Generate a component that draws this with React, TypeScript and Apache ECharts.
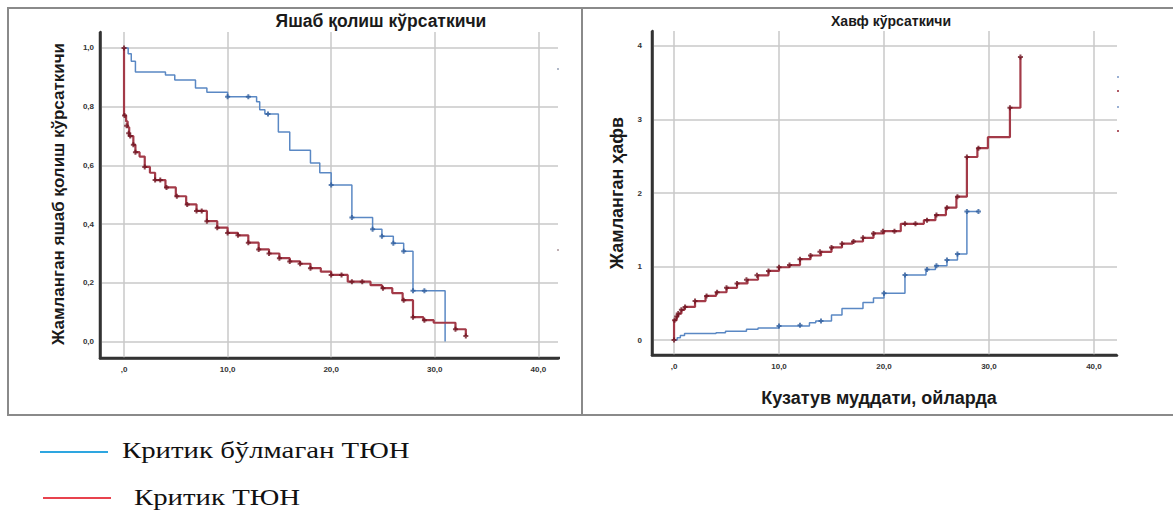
import React, { useEffect, useRef } from "react";
import * as echarts from "echarts";

// ---- data ----
const xTicks = [0, 10, 20, 30, 40];
const survYTicks = [0, 0.2, 0.4, 0.6, 0.8, 1.0];
const hazYTicks = [0, 1, 2, 3, 4];

const titleSurv = "Яшаб қолиш кўрсаткичи";
const titleHaz = "Хавф кўрсаткичи";
const ySurvName = "Жамланган яшаб қолиш кўрсаткичи";
const yHazName = "Жамланган ҳафв";
const xHazName = "Кузатув муддати, ойларда";
const legendBlue = "Критик бўлмаган ТЮН";
const legendRed = "Критик ТЮН";

const survBlue: number[][] = [
  [0, 1.0], [0.4, 0.98], [0.7, 0.955], [1.1, 0.918], [4.0, 0.908], [4.9, 0.891],
  [6.9, 0.864], [8.0, 0.849], [10.0, 0.834], [12.8, 0.817], [13.1, 0.79], [13.6, 0.775],
  [14.9, 0.714], [16.0, 0.652], [18.0, 0.608], [18.9, 0.575], [20.0, 0.533], [22.0, 0.423],
  [24.0, 0.383], [24.9, 0.359], [26.0, 0.335], [27.0, 0.308], [27.9, 0.173], [31.0, 0.0],
];
const survRed: number[][] = [
  [0, 1.0], [0, 0.77], [0.2, 0.75], [0.35, 0.73], [0.5, 0.7], [0.9, 0.67], [1.1, 0.645],
  [1.5, 0.63], [2.0, 0.595], [2.5, 0.575], [3.0, 0.55], [4.0, 0.525], [5.0, 0.495],
  [6.0, 0.467], [7.0, 0.445], [8.0, 0.41], [9.0, 0.388], [10.0, 0.37], [11.0, 0.362],
  [12.0, 0.337], [13.0, 0.314], [14.0, 0.3], [15.0, 0.284], [16.0, 0.273], [17.0, 0.265],
  [18.0, 0.25], [19.0, 0.238], [20.0, 0.227], [21.6, 0.204], [23.8, 0.192], [24.9, 0.182],
  [25.9, 0.165], [26.9, 0.141], [27.9, 0.083], [28.9, 0.073], [29.9, 0.064], [32.0, 0.042],
  [33.0, 0.019],
];
const survBlueCens: number[][] = [
  [10.0, 0.834], [12.0, 0.834], [13.9, 0.775], [20.0, 0.533], [22.0, 0.423], [24.0, 0.383],
  [24.9, 0.359], [26.0, 0.335], [27.0, 0.308], [27.9, 0.173], [29.0, 0.173],
];
const survRedCens: number[][] = [
  [0, 1.0], [0.05, 0.77], [0.25, 0.735], [0.45, 0.71], [0.6, 0.7], [0.9, 0.67], [1.1, 0.645],
  [2.0, 0.595], [3.0, 0.55], [3.5, 0.55], [4.1, 0.525], [5.1, 0.495], [6.1, 0.467],
  [7.0, 0.445], [7.5, 0.445], [8.0, 0.41], [9.0, 0.388], [10.0, 0.37], [11.0, 0.362],
  [12.0, 0.337], [13.0, 0.314], [14.0, 0.3], [15.0, 0.284], [16.0, 0.273], [17.0, 0.265],
  [18.0, 0.25], [20.0, 0.227], [21.0, 0.227], [22.0, 0.204], [23.0, 0.204], [25.0, 0.182],
  [27.0, 0.141], [27.9, 0.083], [29.0, 0.073], [32.0, 0.042], [33.0, 0.019],
];

const hazBlue: number[][] = [
  [0, 0], [0.3, 0.03], [0.6, 0.06], [1.0, 0.09], [4.0, 0.1], [4.9, 0.12], [6.9, 0.145],
  [8.0, 0.165], [10.0, 0.19], [12.9, 0.235], [13.5, 0.26], [15.0, 0.34], [16.0, 0.43],
  [18.0, 0.51], [19.0, 0.57], [20.0, 0.635], [22.0, 0.885], [24.0, 0.96], [24.9, 1.01],
  [26.0, 1.09], [27.0, 1.17], [27.9, 1.75], [29.0, 1.75],
];
const hazRed: number[][] = [
  [0, 0], [0, 0.27], [0.25, 0.32], [0.4, 0.36], [0.7, 0.41], [1.0, 0.45], [2.0, 0.53],
  [3.0, 0.6], [4.0, 0.65], [5.0, 0.71], [6.0, 0.77], [7.0, 0.82], [8.0, 0.88], [9.0, 0.94],
  [10.0, 0.99], [11.0, 1.02], [12.0, 1.1], [13.0, 1.15], [14.0, 1.2], [15.0, 1.26],
  [16.0, 1.31], [17.0, 1.34], [18.0, 1.39], [19.0, 1.45], [20.0, 1.48], [21.6, 1.58],
  [23.8, 1.63], [24.9, 1.7], [25.9, 1.8], [26.9, 1.95], [27.9, 2.49], [28.9, 2.61],
  [29.9, 2.76], [32.0, 3.16], [33.0, 3.85],
];
const hazBlueCens: number[][] = [
  [10.0, 0.19], [12.0, 0.2], [14.0, 0.26], [20.0, 0.635], [22.0, 0.885], [24.1, 0.96],
  [25.0, 1.01], [26.0, 1.09], [27.0, 1.17], [27.9, 1.75], [29.0, 1.75],
];
const hazRedCens: number[][] = [
  [0, 0], [0.05, 0.27], [0.25, 0.32], [0.4, 0.36], [0.7, 0.41], [1.05, 0.45], [2.0, 0.53],
  [3.1, 0.6], [4.1, 0.65], [5.0, 0.71], [6.0, 0.77], [6.9, 0.82], [7.9, 0.88], [9.0, 0.94],
  [10.0, 0.99], [11.0, 1.02], [12.0, 1.1], [13.0, 1.15], [13.9, 1.2], [15.0, 1.26],
  [16.0, 1.31], [17.1, 1.34], [18.0, 1.39], [19.0, 1.45], [19.9, 1.48], [21.0, 1.48],
  [22.0, 1.58], [23.0, 1.58], [24.1, 1.63], [25.0, 1.7], [26.0, 1.8], [27.0, 1.95],
  [27.9, 2.49], [29.0, 2.61], [32.0, 3.16], [33.0, 3.85],
];

const BLUE = "#5a88c4";
const BLUE_M = "#2f5e9e";
const RED = "#a33a48";
const RED_M = "#6e1420";
const GRID = "#c9c9c9";
const AXIS = "#333333";
const PLUS = "path://M3,0h4v3h3v4h-3v3h-4v-3h-3v-4h3z";

const fmtX = (v: number) => (v === 0 ? ",0" : v.toFixed(1).replace(".", ","));
const fmtYS = (v: number) => v.toFixed(1).replace(".", ",");
const fmtYH = (v: number) => String(v);

function App() {
  const ref = useRef<HTMLDivElement>(null);
  useEffect(() => {
    document.body.style.margin = "0";
    const chart = echarts.init(ref.current!, null, { renderer: "svg" });
    const tickFont = { fontSize: 8, fontWeight: "bold" as const, color: "#333", fontFamily: "Liberation Sans" };
    const stepLine = (data: number[][], idx: number, color: string, width: number) => ({
      type: "line",
      xAxisIndex: idx,
      yAxisIndex: idx,
      step: "end",
      data,
      showSymbol: false,
      symbol: "none",
      lineStyle: { color, width },
      z: 3,
    });
    const cens = (data: number[][], idx: number, color: string) => ({
      type: "scatter",
      xAxisIndex: idx,
      yAxisIndex: idx,
      data,
      symbol: PLUS,
      symbolSize: 5,
      itemStyle: { color },
      z: 4,
    });
    const mkAxis = (gi: number, min: number, max: number, ticks: number[], fmt: any, margin: number) => ({
      type: "value", gridIndex: gi, min, max,
      axisLine: { show: true, onZero: false, lineStyle: { color: AXIS, width: 2.5 } },
      axisTick: { show: false, customValues: ticks },
      splitLine: { show: true, lineStyle: { color: GRID, width: 1.5 } },
      axisLabel: { ...tickFont, customValues: ticks, formatter: fmt, margin },
    });
    const axisLn = (x1: number, y1: number, x2: number, y2: number) => ({
      type: "line", shape: { x1, y1, x2, y2 }, style: { stroke: AXIS, lineWidth: 2.5 },
    });
    const option: any = {
      animation: false,
      grid: [
        { left: 100, top: 32, width: 458, height: 326 },
        { left: 652, top: 31, width: 465, height: 324 },
      ],
      xAxis: [mkAxis(0, -2.32, 41.9, xTicks, fmtX, 7), mkAxis(1, -2.1, 42.2, xTicks, fmtX, 7)],
      yAxis: [
        mkAxis(0, -0.056, 1.0545, survYTicks, fmtYS, 6),
        mkAxis(1, -0.204, 4.204, hazYTicks, fmtYH, 10),
      ],
      series: [
        stepLine(survBlue, 0, BLUE, 1.5),
        stepLine(survRed, 0, RED, 2.2),
        cens(survBlueCens, 0, BLUE_M),
        cens(survRedCens, 0, RED_M),
        stepLine(hazBlue, 1, BLUE, 1.5),
        stepLine(hazRed, 1, RED, 2.2),
        cens(hazBlueCens, 1, BLUE_M),
        cens(hazRedCens, 1, RED_M),
      ],
      graphic: [
        { type: "rect", shape: { x: 8, y: 8, width: 574, height: 407 }, style: { fill: "none", stroke: "#8a8a8a", lineWidth: 2 }, silent: true },
        { type: "rect", shape: { x: 582, y: 8, width: 592, height: 407 }, style: { fill: "none", stroke: "#8a8a8a", lineWidth: 2 }, silent: true },
        axisLn(100, 32, 100, 359),
        axisLn(99, 358, 560, 358),
        axisLn(652, 31, 652, 356),
        axisLn(651, 355, 1117, 355),
        { type: "text", x: 381, y: 21, style: { text: titleSurv, font: "bold 17.5px 'Liberation Sans'", fill: "#1a1a1a", textAlign: "center", textVerticalAlign: "middle" } },
        { type: "text", x: 891, y: 21, style: { text: titleHaz, font: "bold 14px 'Liberation Sans'", fill: "#1a1a1a", textAlign: "center", textVerticalAlign: "middle" } },
        { type: "text", x: 58, y: 194, rotation: Math.PI / 2, style: { text: ySurvName, font: "bold 17px 'Liberation Sans'", fill: "#1a1a1a", textAlign: "center", textVerticalAlign: "middle" } },
        { type: "text", x: 617, y: 193, rotation: Math.PI / 2, style: { text: yHazName, font: "bold 18px 'Liberation Sans'", fill: "#1a1a1a", textAlign: "center", textVerticalAlign: "middle" } },
        { type: "text", x: 879, y: 398, style: { text: xHazName, font: "bold 18px 'Liberation Sans'", fill: "#1a1a1a", textAlign: "center", textVerticalAlign: "middle" } },
        { type: "line", shape: { x1: 40, y1: 452, x2: 108, y2: 452 }, style: { stroke: "#2ea6e0", lineWidth: 2 } },
        { type: "text", x: 122, y: 450, scaleX: 1.2, style: { text: legendBlue, font: "24px 'Liberation Serif'", fill: "#111", textAlign: "left", textVerticalAlign: "middle" } },
        { type: "line", shape: { x1: 43, y1: 498, x2: 111, y2: 498 }, style: { stroke: "#e8434e", lineWidth: 2 } },
        { type: "text", x: 134, y: 497, scaleX: 1.2, style: { text: legendRed, font: "24px 'Liberation Serif'", fill: "#111", textAlign: "left", textVerticalAlign: "middle" } },
        { type: "rect", shape: { x: 557, y: 68, width: 2, height: 2 }, style: { fill: "#b0b8c8" } },
        { type: "rect", shape: { x: 557, y: 249, width: 2, height: 2 }, style: { fill: "#c0b0b4" } },
        { type: "rect", shape: { x: 1117, y: 76, width: 2, height: 2 }, style: { fill: "#9ab0d4" } },
        { type: "rect", shape: { x: 1117, y: 90, width: 2, height: 2 }, style: { fill: "#b05a66" } },
        { type: "rect", shape: { x: 1117, y: 106, width: 2, height: 2 }, style: { fill: "#9ab0d4" } },
        { type: "rect", shape: { x: 1117, y: 130, width: 2, height: 2 }, style: { fill: "#b05a66" } },
      ],
    };
    chart.setOption(option);
    return () => chart.dispose();
  }, []);
  return <div ref={ref} style={{ width: 1173, height: 517 }} />;
}

export default App;
